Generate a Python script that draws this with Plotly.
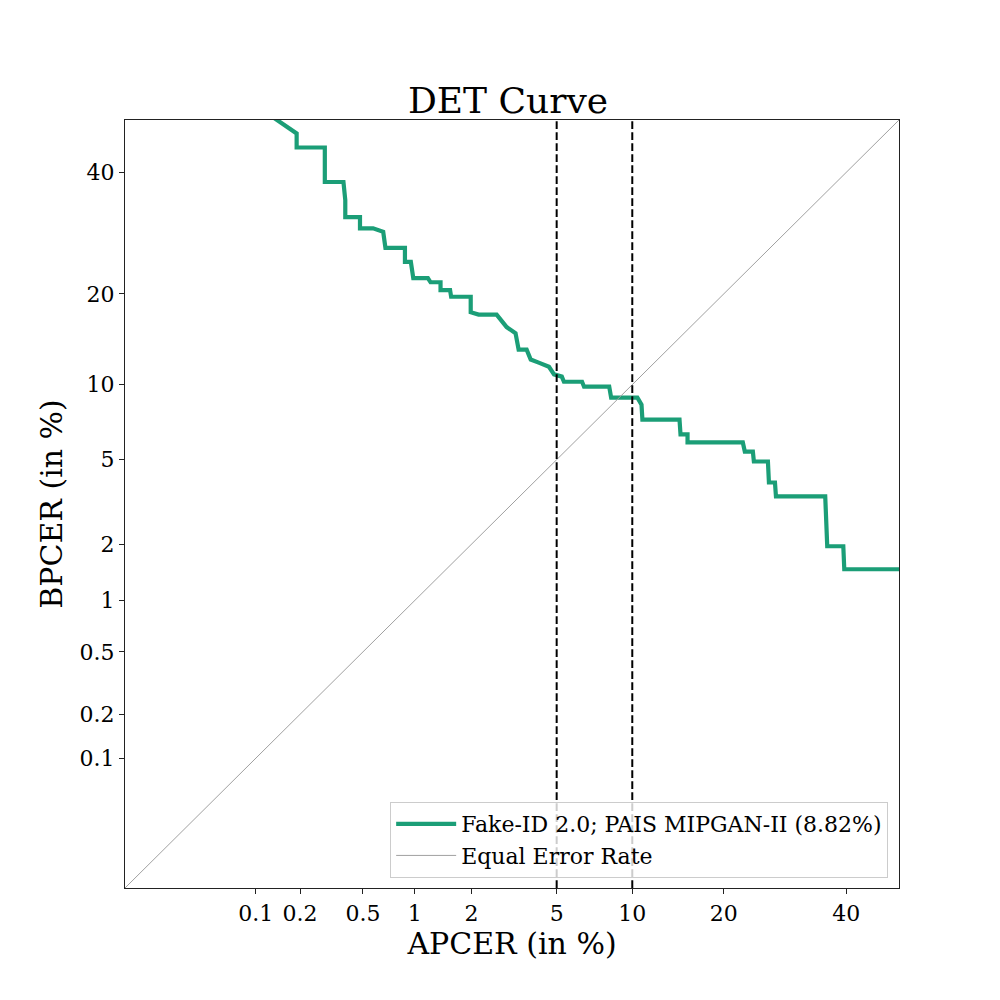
import plotly.graph_objects as go
from statistics import NormalDist

# ---- data (percent) ----
apcer = [0.12, 0.141, 0.19, 0.19, 0.29, 0.29, 0.38, 0.39, 0.39, 0.48, 0.48, 0.575, 0.66, 0.68,
         0.88, 0.88, 0.95, 0.98, 1.18, 1.22, 1.38, 1.38, 1.55, 1.57, 1.98, 1.98, 2.17, 2.66,
         2.78, 2.97, 3.27, 3.38, 3.68, 3.84, 4.17, 4.63, 4.87, 5.26, 5.37, 6.39, 6.51, 8.19,
         8.33, 10.44, 10.8, 10.88, 14.58, 14.69, 15.48, 15.48, 22.65, 22.94, 24.13, 24.28,
         26.44, 26.6, 27.56, 27.72, 36.15, 36.33, 36.51, 36.51, 39.45, 39.63, 55.0]
bpcer = [51.3, 50.0, 47.4, 44.7, 44.7, 38.2, 38.2, 34.9, 31.9, 31.9, 30.0, 30.0, 29.4, 26.8,
         26.8, 24.6, 24.6, 22.2, 22.2, 21.6, 21.6, 20.5, 20.5, 19.6, 19.6, 17.6, 17.3, 17.3,
         16.7, 15.8, 15.1, 13.3, 13.3, 12.3, 12.0, 11.6, 10.9, 10.7, 10.25, 10.25, 9.83, 9.83,
         8.94, 8.94, 8.41, 7.34, 7.34, 6.39, 6.39, 5.92, 5.92, 5.42, 5.42, 4.91, 4.91, 3.96,
         3.96, 3.42, 3.42, 2.46, 2.38, 1.95, 1.95, 1.48, 1.48]
series_name = "Fake-ID 2.0; PAIS MIPGAN-II (8.82%)"
eer_name = "Equal Error Rate"
tick_values = [0.1, 0.2, 0.5, 1, 2, 5, 10, 20, 40]
tick_labels = ["0.1", "0.2", "0.5", "1", "2", "5", "10", "20", "40"]
vlines = [5, 10]
axis_limits = [0.01, 50]

nd = NormalDist()
def probit(p):
    return nd.inv_cdf(p / 100.0)

lo, hi = probit(axis_limits[0]), probit(axis_limits[1])
FONT = "DejaVu Serif"

fig = go.Figure()
fig.add_trace(go.Scatter(
    x=[probit(v) for v in apcer], y=[probit(v) for v in bpcer],
    mode="lines", name=series_name,
    line=dict(color="#1b9e77", width=4.2)))
fig.add_trace(go.Scatter(
    x=[lo, hi], y=[lo, hi], mode="lines", name=eer_name,
    line=dict(color="#a0a0a0", width=1)))
for v in vlines:
    fig.add_trace(go.Scatter(
        x=[probit(v), probit(v)], y=[lo, hi], mode="lines", showlegend=False,
        line=dict(color="black", width=2, dash="7.7px,3.3px"), hoverinfo="skip"))

tickpos = [probit(v) for v in tick_values]
axis_common = dict(
    range=[lo, hi], tickvals=tickpos, ticktext=tick_labels,
    showgrid=False, zeroline=False, showline=True, linecolor="#222222", linewidth=1.2,
    mirror=True, ticks="outside", ticklen=5, tickcolor="#222222",
    tickfont=dict(family=FONT, size=22, color="black"))

fig.update_layout(
    width=1000, height=1000,
    margin=dict(l=117, r=109, t=112, b=120),
    paper_bgcolor="white", plot_bgcolor="white",
    title=dict(text="DET Curve", x=0.5, xanchor="center", y=0.908, yref="container",
               yanchor="middle", font=dict(family=FONT, size=36, color="black")),
    xaxis=dict(axis_common, title=dict(text="APCER (in %)", font=dict(family=FONT, size=30, color="black"), standoff=2)),
    yaxis=dict(axis_common, title=dict(text="BPCER (in %)", font=dict(family=FONT, size=30, color="black"), standoff=8)),
    legend=dict(x=0.986, y=0.013, xanchor="right", yanchor="bottom",
                bgcolor="rgba(255,255,255,0.8)", bordercolor="#cccccc", borderwidth=1,
                font=dict(family=FONT, size=22, color="black"), tracegroupgap=0,
                itemwidth=60),
    showlegend=True,
)

fig.write_html("out.html")
